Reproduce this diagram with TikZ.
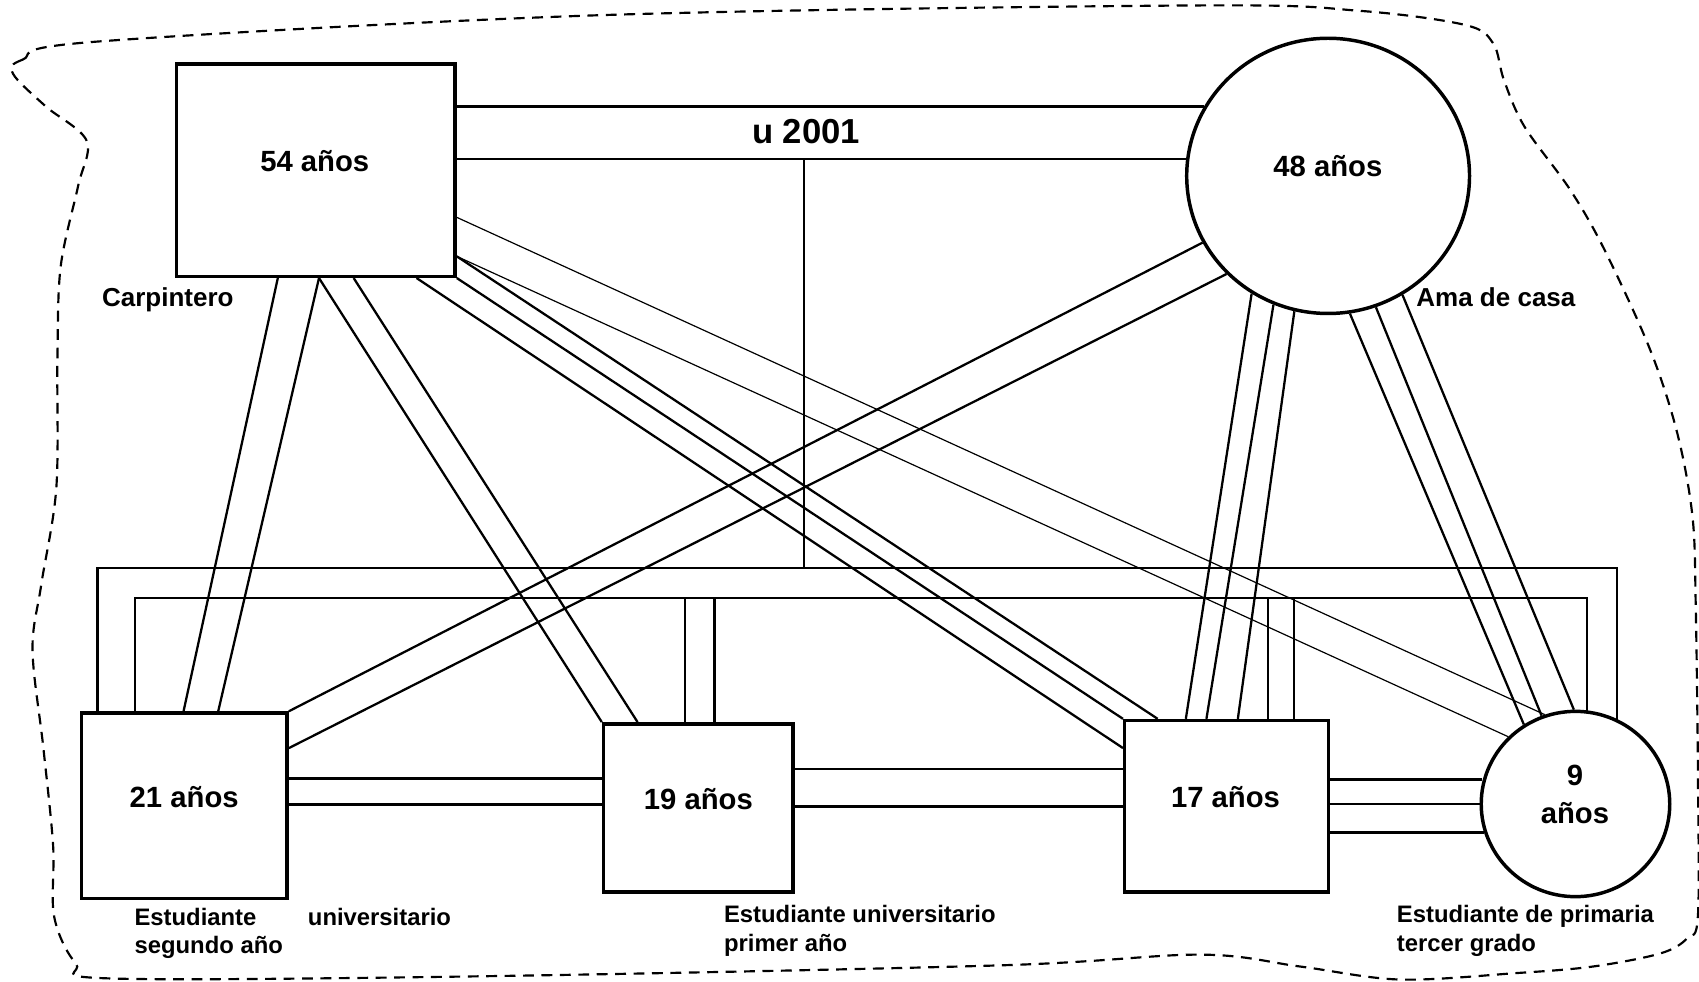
\documentclass[tikz,border=0pt]{standalone}
\usepackage{fontspec}
\setmainfont{Liberation Sans}
\usetikzlibrary{calc,shapes.geometric}
\begin{document}
\begin{tikzpicture}[x=1pt,y=-1pt,
  box/.style={draw, line width=3.2pt, rectangle, inner sep=0pt},
  oval/.style={draw, line width=3.2pt, ellipse, inner sep=0pt},
  conn/.style={line width=2.1pt},
  thinline/.style={line width=1.1pt},
  big/.style={font=\bfseries\fontsize{27}{32}\selectfont, inner sep=0pt, anchor=base},
  year/.style={font=\bfseries\fontsize{32}{38}\selectfont, inner sep=0pt, anchor=base},
  small/.style={font=\bfseries\fontsize{22}{26}\selectfont, inner sep=0pt, anchor=base west},
  occ/.style={font=\bfseries\fontsize{24}{28}\selectfont, inner sep=0pt, anchor=base west},
  border/.style={dash pattern=on 10pt off 7pt, line width=2pt}]
\useasboundingbox (0,0) rectangle (1568,906);

% boundary
\draw[border] plot[smooth cycle, tension=0.55] coordinates {
 (88,38.5) (21,55) (12,68) (42,98) (80,130) (72,172) (56,246) (53,330) (52,450)
 (38,540) (30,600) (40,690) (49,780) (50,846) (70,889) (102,903) (443,901)
 (920,891) (1107,881) (1200,892) (1292,904) (1400,898) (1470,892) (1532,880)
 (1557,866) (1567,845) (1567,713) (1565,560) (1562,477) (1548,400) (1523,323)
 (1481,231) (1449,175) (1407,117) (1388,74) (1378,40) (1352,23) (1255,10)
 (1107,5) (554,14)};

% persons
\node[box, minimum width=257pt, minimum height=196pt] (fa) at (291.5,157) {};
\node[oval, minimum width=261pt, minimum height=254pt] (mo) at (1225.7,162.3) {};
\node[box, minimum width=190pt, minimum height=171pt] (c21) at (170,743.5) {};
\node[box, minimum width=175pt, minimum height=155pt] (c19) at (644.5,745.5) {};
\node[box, minimum width=188pt, minimum height=158pt] (c17) at (1132,744) {};
\node[oval, minimum width=174pt, minimum height=171pt] (c9) at (1454,742) {};

% marriage
\coordinate (fm1) at ($(fa.north east)+(0,41)$);
\coordinate (fm2) at ($(fa.north east)+(0,89)$);
\draw[conn] (fm1) -- (fm1 -| mo.151.3);
\draw[conn] (fm2) -- (fm2 -| mo.173.7);
\node[year] (yr) at (744,132) {u 2001};

% sibling rails
\coordinate (oL) at (90,524.5);
\coordinate (oR) at (1492,524.5);
\coordinate (iL) at (124.7,552);
\coordinate (iR) at (1464.7,552);
\coordinate (mv) at (742,148);
\draw[conn] (mv) -- (mv |- oL);
\draw[conn] (oL |- c21.north) -- (oL) -- (oR) -- (oR |- c9.63.7);
\draw[conn] (iL |- c21.north) -- (iL) -- (iR) -- (iR |- c9.82.8);
\coordinate (s19a) at ($(c19.north west)+(77,0)$);
\coordinate (s19b) at ($(c19.north west)+(104,0)$);
\coordinate (s17a) at ($(c17.north west)+(133.5,0)$);
\coordinate (s17b) at ($(c17.north west)+(157.5,0)$);
\draw[conn] (s19a) -- (s19a |- iL);
\draw[conn] (s19b) -- (s19b |- iL);
\draw[conn] (s17a) -- (s17a |- iL);
\draw[conn] (s17b) -- (s17b |- iL);

% father to children
\draw[conn] ($(fa.south west)+(95,0)$) -- ($(c21.north west)+(96,0)$);
\draw[conn] ($(fa.south west)+(133,0)$) -- ($(c21.north west)+(128,0)$);
\draw[conn] ($(fa.south west)+(133,0)$) -- (c19.north west);
\draw[conn] ($(fa.south west)+(165,0)$) -- ($(c19.north west)+(33,0)$);
\draw[conn] ($(fa.south west)+(223,0)$) -- ($(c17.north west)+(0,27)$);
\draw[conn] (fa.south east) -- (c17.north west);
\draw[conn] ($(fa.south east)+(0,-20)$) -- ($(c17.north west)+(32,0)$);
\draw[thinline] ($(fa.south east)+(0,-56)$) -- (c9.109.7);
\draw[thinline] ($(fa.south east)+(0,-20)$) -- (c9.135);

% mother to children
\draw[conn] (mo.208.6) -- (c21.north east);
\draw[conn] (mo.224) -- ($(c21.north east)+(0,34)$);
\draw[conn] (mo.237.7) -- ($(c17.north west)+(58,0)$);
\draw[conn] (mo.247.7) -- ($(c17.north west)+(77,0)$);
\draw[conn] (mo.256) -- ($(c17.north west)+(106,0)$);
\draw[conn] (mo.279.2) -- (c9.123.9);
\draw[conn] (mo.290.5) -- (c9.111);
\draw[conn] (mo.302.5) -- (c9.91.3);

% sibling horizontals
\coordinate (h1) at ($(c21.north east)+(0,62)$);
\coordinate (h2) at ($(c21.north east)+(0,86)$);
\coordinate (h3) at ($(c19.north east)+(0,43)$);
\coordinate (h4) at ($(c19.north east)+(0,78)$);
\coordinate (h5) at ($(c17.north east)+(0,56)$);
\coordinate (h6) at ($(c17.north east)+(0,78.5)$);
\coordinate (h7) at ($(c17.north east)+(0,105)$);
\draw[conn] (h1) -- (h1 -| c19.west);
\draw[conn] (h2) -- (h2 -| c19.west);
\draw[conn] (h3) -- (h3 -| c17.west);
\draw[conn] (h4) -- (h4 -| c17.west);
\draw[conn] (h5) -- (h5 -| c9.166);
\draw[conn] (h6) -- (h6 -| c9.179);
\draw[conn] (h7) -- (h7 -| c9.198.8);

% texts
\node[big] (t54) at (290.5,158) {54 años};
\node[big] (t48) at (1225.5,163) {48 años};
\node[big] (t21) at (170,745) {21 años};
\node[big] (t19) at (644.5,747) {19 años};
\node[big] (t17) at (1131,745) {17 años};
\node[big] (t9a) at (1453.5,725) {9};
\node[big] (t9b) at (1453.5,760) {años};
\node[occ] (lcar) at (94,283) {Carpintero};
\node[occ] (lama) at (1307,283) {Ama de casa};
\node[small] (l21a) at (124,854) {Estudiante};
\node[small] (l21b) at (284,854) {universitario};
\node[small] (l21c) at (124,880) {segundo año};
\node[small] (l19a) at (668,851) {Estudiante universitario};
\node[small] (l19b) at (668,878) {primer año};
\node[small] (l9a) at (1289,851) {Estudiante de primaria};
\node[small] (l9b) at (1289,878) {tercer grado};
\end{tikzpicture}
\end{document}
